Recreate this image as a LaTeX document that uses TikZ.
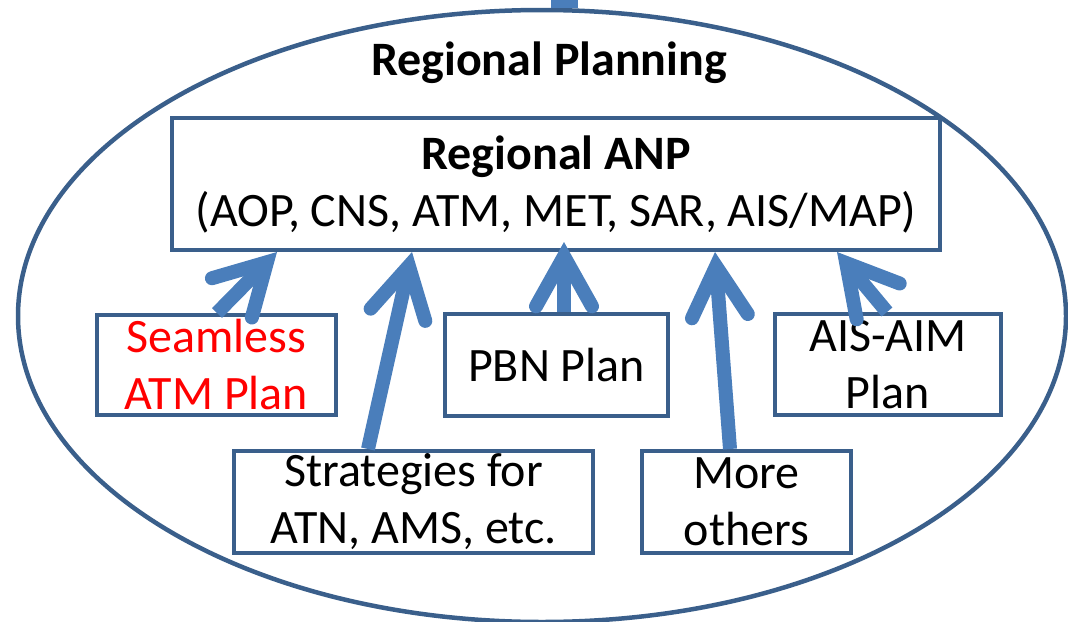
\documentclass[tikz,border=0pt]{standalone}
\usepackage{fontspec}
\setmainfont{Carlito}
\usetikzlibrary{arrows.meta,shapes.geometric}
\definecolor{boxline}{HTML}{3A5F8B}
\definecolor{feedblue}{HTML}{4A7EBB}
\begin{document}
\begin{tikzpicture}[x=1pt,y=-1pt,
  txt/.style={font=\fontsize{48}{57}\selectfont},
  box/.style={txt,draw=boxline,line width=4pt,align=center,inner sep=0pt},
  feed/.style={draw=feedblue,line width=14pt,
    -{Straight Barb[length=50pt,width=56pt,line cap=round]}}]
\clip (0,0) rectangle (1068,621);
\coordinate (above) at (564.5,-20);
\node[ellipse,draw=boxline,line width=4.5pt,minimum width=1048pt,minimum height=612pt] (plan) at (542,316) {};
\draw[feedblue,line width=27pt] (above) -- (above |- plan.north);
\node[txt,font=\fontsize{48}{57}\selectfont\bfseries] (title) at (549,63) {Regional Planning};
\node[box,minimum width=768pt,minimum height=132pt] (anp) at (556,184)
  {\textbf{Regional ANP}\\(AOP, CNS, ATM, MET, SAR, AIS/MAP)};
\node[box,text=red,minimum width=239pt,minimum height=100pt] (seamless) at (216.5,365) {Seamless\\ATM Plan};
\node[box,minimum width=223pt,minimum height=102pt] (pbn) at (556.5,365) {PBN Plan};
\node[box,minimum width=226pt,minimum height=101pt] (aisaim) at (888,364.5) {AIS-AIM\\Plan};
\node[box,minimum width=359pt,minimum height=102pt] (strategies) at (413.5,502) {Strategies for\\ATN, AMS, etc.};
\node[box,minimum width=209pt,minimum height=102pt] (more) at (746.5,502) {More\\others};
\draw[feed] (seamless.north -| 217,0) -- (anp.south -| 277,0);
\draw[feed] (strategies.north -| 368,0) -- (anp.south -| 412,0);
\draw[feed] (pbn.north -| 564,0) -- ([yshift=10pt]anp.south -| 564,0);
\draw[feed] (more.north -| 730,0) -- (anp.south -| 715,0);
\draw[feed] (aisaim.north -| 887,0) -- (anp.south -| 837,0);
\end{tikzpicture}
\end{document}
